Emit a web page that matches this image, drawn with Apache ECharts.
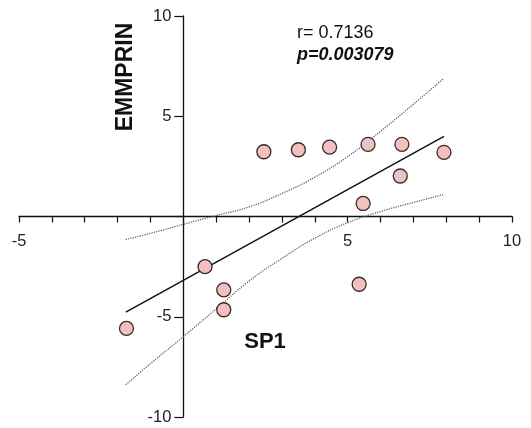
<!DOCTYPE html>
<html>
<head>
<meta charset="utf-8">
<script src="https://cdn.jsdelivr.net/npm/echarts@6/dist/echarts.min.js"></script>
<style>html,body{margin:0;padding:0;background:#fff}#c{width:531px;height:428px}</style>
</head>
<body>
<div id="c"></div>
<script>
// Observed points (SP1 vs EMMPRIN)
const spX  = [-1.73, 0.66, 1.23, 1.23, 2.45, 3.50, 4.45, 5.62, 6.65, 7.93, 6.60, 5.47, 5.35];
const emY  = [-5.58, -2.50, -3.66, -4.65, 3.23, 3.33, 3.46, 3.60, 3.60, 3.20, 2.02, 0.65, -3.38];
// Regression line endpoints
const fitX = [-1.75, 7.93];
const fitY = [-4.77, 4.00];
// Confidence band values
const bandX     = [-1.75, -1, 0, 1, 2, 3, 4, 5, 6, 7, 7.9];
const bandUpper = [-1.15, -0.84, -0.39, 0.05, 0.48, 1.15, 1.96, 2.99, 4.25, 5.60, 6.85];
const bandLower = [-8.39, -7.34, -5.99, -4.61, -3.22, -2.09, -1.08, -0.31, 0.25, 0.70, 1.09];
const xTickLabels = [-5, 5, 10];
const yTickLabels = [-10, -5, 5, 10];
const statR = 'r= 0.7136';
const statP = 'p=0.003079';
const xName = 'SP1';
const yName = 'EMMPRIN';

const zip = (a, b) => a.map((v, i) => [v, b[i]]);
const FONT = 'Liberation Sans, Arial, sans-serif';

const chart = echarts.init(document.getElementById('c'), null, {renderer: 'canvas'});
const option = {
  animation: false,
  grid: {left: 19, right: 19, top: 16, bottom: 11, containLabel: false, outerBoundsMode: 'none'},
  xAxis: {
    type: 'value', min: -5, max: 10, interval: 1, position: 'bottom', offset: 0,
    axisLine: {onZero: false, lineStyle: {color: '#111', width: 1.3}},
    axisTick: {show: true, length: 6, inside: false, lineStyle: {color: '#111', width: 1.2}},
    axisLabel: {
      margin: 16, color: '#222', fontSize: 16.5, fontFamily: FONT,
      formatter: v => xTickLabels.includes(v) ? String(v) : ''
    },
    splitLine: {show: false}
  },
  yAxis: {
    type: 'value', min: -10, max: 10, interval: 5, position: 'left', offset: 0,
    axisLine: {onZero: false, lineStyle: {color: '#111', width: 1.3}},
    axisTick: {show: true, length: 9, lineStyle: {color: '#111', width: 1.2}},
    axisLabel: {
      margin: 12, color: '#222', fontSize: 16.5, fontFamily: FONT,
      formatter: v => yTickLabels.includes(v) ? String(v) : ''
    },
    splitLine: {show: false}
  },
  series: [
    {
      type: 'line', data: zip(bandX, bandUpper), smooth: true, showSymbol: false,
      lineStyle: {color: '#555', width: 1.2, type: 'dotted'}, z: 2, silent: true
    },
    {
      type: 'line', data: zip(bandX, bandLower), smooth: true, showSymbol: false,
      lineStyle: {color: '#555', width: 1.2, type: 'dotted'}, z: 2, silent: true
    },
    {
      type: 'line', data: zip(fitX, fitY), showSymbol: false,
      lineStyle: {color: '#111', width: 1.5}, z: 3, silent: true
    },
    {
      type: 'scatter', data: zip(spX, emY), symbol: 'circle', symbolSize: 14,
      itemStyle: {color: '#f3c0c0', borderColor: '#3a2a2a', borderWidth: 1.3, opacity: 1}, z: 4
    }
  ],
  graphic: [
    {type: 'text', x: 297, y: 33,
      style: {text: statR, font: '18px ' + FONT, fill: '#111', verticalAlign: 'middle'}},
    {type: 'text', x: 297, y: 55,
      style: {text: statP, font: 'italic bold 18px ' + FONT, fill: '#111', verticalAlign: 'middle'}},
    {type: 'text', x: 126, y: 77, rotation: Math.PI / 2,
      style: {text: yName, font: 'bold 23px ' + FONT, fill: '#111', align: 'center', verticalAlign: 'middle'}},
    {type: 'text', x: 265, y: 342,
      style: {text: xName, font: 'bold 22px ' + FONT, fill: '#111', align: 'center', verticalAlign: 'middle'}}
  ]
};
chart.setOption(option);
// Move both axes inward so they cross at the data origin (0,0)
const origin = chart.convertToPixel({gridIndex: 0}, [0, 0]);
const lowLeft = chart.convertToPixel({gridIndex: 0}, [-5, -10]);
chart.setOption({
  xAxis: {offset: -(lowLeft[1] - origin[1])},
  yAxis: {offset: -(origin[0] - lowLeft[0])}
});
</script>
</body>
</html>
